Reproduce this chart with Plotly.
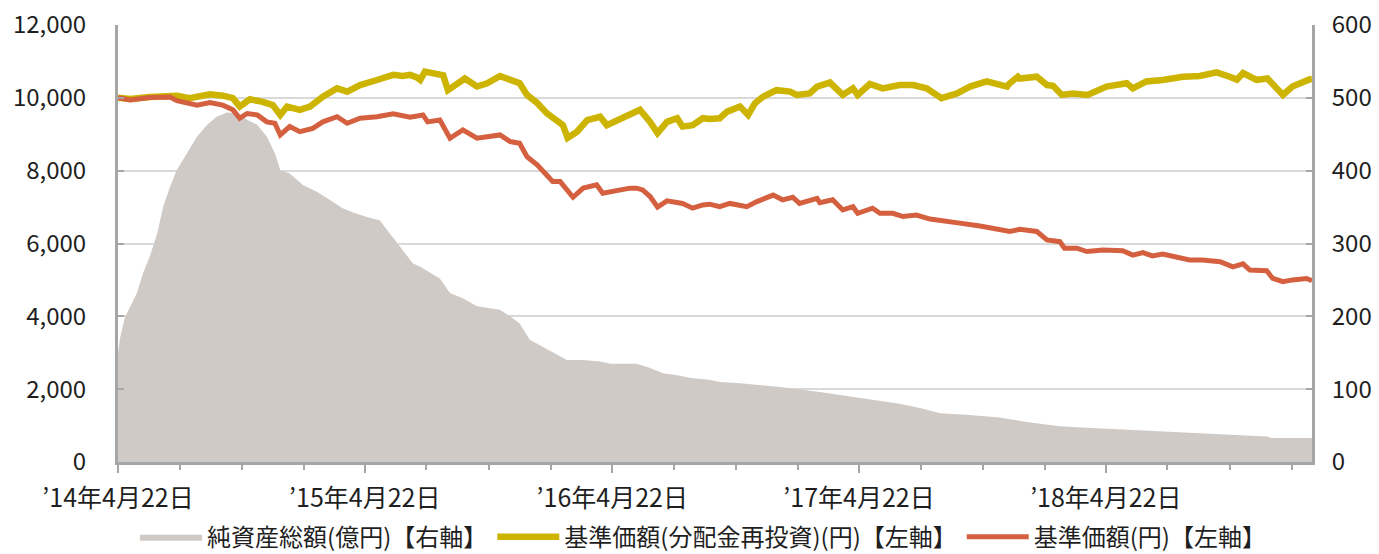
import plotly.graph_objects as go

# ---------------- data ----------------
aum_dates = [
    "2014-04-22", "2014-04-25", "2014-05-02", "2014-05-10", "2014-05-20", "2014-05-29",
    "2014-06-08", "2014-06-19", "2014-06-28", "2014-07-08", "2014-07-18", "2014-08-02",
    "2014-08-17", "2014-09-01", "2014-09-15", "2014-09-30", "2014-10-15", "2014-10-30",
    "2014-11-14", "2014-11-28", "2014-12-10", "2014-12-18", "2015-01-01", "2015-01-21",
    "2015-02-10", "2015-03-01", "2015-03-21", "2015-04-10", "2015-04-30", "2015-05-14",
    "2015-05-29", "2015-06-17", "2015-07-02", "2015-07-13", "2015-08-11", "2015-08-26",
    "2015-09-14", "2015-10-05", "2015-10-24", "2015-11-08", "2015-11-23", "2015-12-07",
    "2015-12-22", "2016-01-10", "2016-01-25", "2016-02-15", "2016-03-10", "2016-04-04",
    "2016-04-19", "2016-05-28", "2016-06-17", "2016-07-06", "2016-07-27", "2016-08-19",
    "2016-09-13", "2016-09-28", "2016-10-28", "2016-12-26", "2017-02-23", "2017-04-23",
    "2017-06-21", "2017-07-21", "2017-08-20", "2017-09-28", "2017-11-16", "2017-12-26",
    "2018-02-13", "2018-03-25", "2018-06-01", "2018-07-21", "2018-10-03", "2018-12-16",
    "2018-12-23", "2019-02-21",
]
aum_values = [  # 純資産総額(億円) – right axis
    150, 170, 198, 213, 232, 259,
    282, 314, 351, 378, 401, 424,
    447, 463, 474, 480, 479, 470,
    463, 447, 424, 401, 396, 380,
    371, 360, 348, 341, 335, 332,
    314, 291, 273, 268, 252, 232,
    225, 214, 211, 209, 200, 190,
    168, 158, 151, 140, 140, 138,
    135, 135, 129, 122, 119, 115,
    113, 110, 108, 103, 96, 88,
    80, 74, 67, 65, 61, 55,
    49, 47, 44, 41, 38, 35,
    33, 33,
]

reinv_dates = [
    "2014-04-22", "2014-05-10", "2014-06-08", "2014-07-08", "2014-07-18", "2014-08-06",
    "2014-08-26", "2014-09-05", "2014-09-24", "2014-10-09", "2014-10-19", "2014-11-03",
    "2014-11-22", "2014-12-07", "2014-12-18", "2014-12-28", "2015-01-16", "2015-01-31",
    "2015-02-19", "2015-03-12", "2015-03-27", "2015-04-15", "2015-05-10", "2015-06-03",
    "2015-06-17", "2015-06-28", "2015-07-08", "2015-07-13", "2015-07-20", "2015-08-07",
    "2015-08-16", "2015-08-23", "2015-09-05", "2015-09-17", "2015-10-05", "2015-10-20",
    "2015-11-08", "2015-11-23", "2015-12-07", "2015-12-18", "2016-01-02", "2016-01-16",
    "2016-01-31", "2016-02-09", "2016-02-16", "2016-03-01", "2016-03-16", "2016-04-04",
    "2016-04-14", "2016-04-29", "2016-05-18", "2016-06-02", "2016-06-17", "2016-06-28",
    "2016-07-12", "2016-07-27", "2016-08-04", "2016-08-19", "2016-09-03", "2016-09-13",
    "2016-09-28", "2016-10-09", "2016-10-28", "2016-11-09", "2016-11-19", "2016-12-01",
    "2016-12-21", "2017-01-10", "2017-01-20", "2017-02-08", "2017-02-19", "2017-03-10",
    "2017-03-29", "2017-04-13", "2017-04-20", "2017-05-08", "2017-05-27", "2017-06-21",
    "2017-07-11", "2017-07-31", "2017-08-22", "2017-09-14", "2017-10-03", "2017-10-28",
    "2017-11-27", "2017-12-01", "2017-12-13", "2017-12-16", "2018-01-10", "2018-01-25",
    "2018-02-03", "2018-02-16", "2018-03-04", "2018-03-26", "2018-04-23", "2018-05-23",
    "2018-06-01", "2018-06-21", "2018-07-15", "2018-08-14", "2018-09-08", "2018-10-03",
    "2018-10-22", "2018-11-02", "2018-11-11", "2018-12-01", "2018-12-17", "2018-12-31",
    "2019-01-09", "2019-01-23", "2019-02-07", "2019-02-18", "2019-02-21",
]
reinv_values = [  # 基準価額(分配金再投資)(円) – left axis
    10000, 9970, 10020, 10050, 10060, 9990,
    10080, 10100, 10060, 9990, 9760, 9960,
    9890, 9800, 9530, 9760, 9670, 9760,
    10030, 10260, 10170, 10350, 10490, 10630,
    10600, 10630, 10560, 10490, 10720, 10630,
    10620, 10210, 10350, 10530, 10310, 10400,
    10600, 10490, 10400, 10080, 9860, 9580,
    9390, 9250, 8900, 9070, 9390, 9480,
    9250, 9390, 9570, 9670, 9340, 9030,
    9340, 9440, 9210, 9250, 9440, 9420,
    9440, 9620, 9760, 9530, 9850, 10030,
    10210, 10170, 10080, 10120, 10310, 10420,
    10080, 10260, 10080, 10380, 10260, 10350,
    10350, 10260, 9990, 10120, 10310, 10450,
    10310, 10400, 10580, 10530, 10580, 10350,
    10330, 10080, 10120, 10080, 10310, 10400,
    10260, 10450, 10490, 10580, 10600, 10700,
    10580, 10500, 10680, 10490, 10530, 10260,
    10080, 10310, 10450, 10510, 10520,
]

nav_dates = [
    "2014-04-22", "2014-05-10", "2014-06-08", "2014-07-08", "2014-07-18", "2014-08-17",
    "2014-09-05", "2014-09-24", "2014-10-09", "2014-10-19", "2014-10-30", "2014-11-14",
    "2014-11-28", "2014-12-10", "2014-12-18", "2015-01-01", "2015-01-16", "2015-02-04",
    "2015-02-19", "2015-03-12", "2015-03-27", "2015-04-15", "2015-05-10", "2015-06-03",
    "2015-06-28", "2015-07-17", "2015-07-24", "2015-08-11", "2015-08-26", "2015-09-14",
    "2015-10-05", "2015-10-24", "2015-11-08", "2015-11-23", "2015-12-07", "2015-12-18",
    "2016-01-02", "2016-01-16", "2016-01-25", "2016-02-05", "2016-02-16", "2016-02-24",
    "2016-03-10", "2016-03-20", "2016-03-30", "2016-04-08", "2016-04-29", "2016-05-18",
    "2016-05-28", "2016-06-06", "2016-06-17", "2016-06-28", "2016-07-12", "2016-08-04",
    "2016-08-19", "2016-09-03", "2016-09-13", "2016-09-28", "2016-10-13", "2016-11-07",
    "2016-11-22", "2016-12-16", "2016-12-30", "2017-01-14", "2017-01-24", "2017-02-19",
    "2017-02-23", "2017-03-14", "2017-03-29", "2017-04-13", "2017-04-20", "2017-05-12",
    "2017-05-23", "2017-06-11", "2017-06-26", "2017-07-16", "2017-08-05", "2017-08-20",
    "2017-09-18", "2017-10-18", "2017-11-16", "2017-12-01", "2017-12-16", "2018-01-10",
    "2018-01-25", "2018-02-13", "2018-02-20", "2018-03-10", "2018-03-25", "2018-04-18",
    "2018-05-17", "2018-06-01", "2018-06-16", "2018-06-30", "2018-07-15", "2018-08-05",
    "2018-08-24", "2018-09-12", "2018-10-08", "2018-10-27", "2018-11-11", "2018-11-21",
    "2018-12-16", "2018-12-25", "2019-01-09", "2019-01-23", "2019-02-13", "2019-02-21",
]
nav_values = [  # 基準価額(円) – left axis
    10000, 9940, 10010, 10020, 9920, 9800,
    9870, 9800, 9670, 9440, 9570, 9530,
    9340, 9300, 8980, 9210, 9070, 9160,
    9340, 9480, 9300, 9440, 9480, 9560,
    9470, 9530, 9340, 9390, 8890, 9120,
    8890, 8930, 8980, 8800, 8750, 8380,
    8160, 7880, 7700, 7700, 7420, 7270,
    7520, 7560, 7610, 7380, 7470, 7520,
    7520, 7470, 7290, 7000, 7170, 7100,
    6970, 7060, 7080, 7010, 7100, 7010,
    7150, 7330, 7200, 7270, 7100, 7240,
    7120, 7200, 6920, 7010, 6830, 6970,
    6830, 6830, 6740, 6780, 6670, 6640,
    6560, 6480, 6400, 6330, 6390, 6330,
    6100, 6050, 5870, 5870, 5780, 5820,
    5800, 5680, 5750, 5660, 5710, 5620,
    5550, 5550, 5500, 5360, 5440, 5270,
    5250, 5040, 4950, 5000, 5040, 4980,
]

series_names = [
    "純資産総額(億円)【右軸】",
    "基準価額(分配金再投資)(円)【左軸】",
    "基準価額(円)【左軸】",
]

x_tick_vals = ["2014-04-22", "2015-04-22", "2016-04-22", "2017-04-22", "2018-04-22"]
x_tick_text = ["’14年4月22日", "’15年4月22日", "’16年4月22日", "’17年4月22日", "’18年4月22日"]
x_minor_vals = [
    "2014-07-22", "2014-10-22", "2015-01-22", "2015-07-22", "2015-10-22", "2016-01-22",
    "2016-07-22", "2016-10-22", "2017-01-22", "2017-07-22", "2017-10-22", "2018-01-22",
    "2018-07-22", "2018-10-22", "2019-01-22",
]
x_range = ["2014-04-22", "2019-02-21"]

# ---------------- style ----------------
FONT = "Noto Sans CJK JP"
GRAY_AREA = "#D0CAC7"
YELLOW = "#CCB400"
ORANGE = "#D4603F"
AXIS_GRAY = "#A6A6A6"
GRID = "#D9D9D9"
TEXT = "#1F1F1F"

fig = go.Figure()

fig.add_trace(go.Scatter(
    x=aum_dates, y=aum_values, name=series_names[0],
    mode="lines", line=dict(width=0, color=GRAY_AREA),
    fill="tozeroy", fillcolor=GRAY_AREA, yaxis="y",
))
fig.add_trace(go.Scatter(
    x=reinv_dates, y=reinv_values, name=series_names[1],
    mode="lines", line=dict(width=6.5, color=YELLOW), yaxis="y2",
))
fig.add_trace(go.Scatter(
    x=nav_dates, y=nav_values, name=series_names[2],
    mode="lines", line=dict(width=5, color=ORANGE), yaxis="y2",
))

fig.update_layout(
    width=1379, height=554,
    margin=dict(l=118, r=67, t=25, b=92, autoexpand=False),
    paper_bgcolor="white", plot_bgcolor="white",
    font=dict(family=FONT, color=TEXT, size=23),
    showlegend=True,
    legend=dict(
        orientation="h", x=0.49, xanchor="center", y=-0.172, yanchor="middle",
        font=dict(family=FONT, size=24, color=TEXT),
        traceorder="normal", itemwidth=62,
    ),
    xaxis=dict(
        type="date", range=x_range,
        tickmode="array", tickvals=x_tick_vals, ticktext=x_tick_text,
        ticks="outside", ticklen=8, tickwidth=2, tickcolor=AXIS_GRAY,
        ticklabelstandoff=4,
        minor=dict(tickmode="array", tickvals=x_minor_vals, ticks="outside",
                   ticklen=5, tickwidth=2, tickcolor=AXIS_GRAY, showgrid=False),
        showline=True, linecolor=AXIS_GRAY, linewidth=3,
        showgrid=False, zeroline=False,
        tickfont=dict(family=FONT, size=25, color=TEXT),
        automargin=False,
    ),
    yaxis=dict(  # right axis (area) - base so the area sits below the lines
        side="right", range=[0, 600], dtick=100, tick0=0,
        showgrid=True, gridcolor=GRID, gridwidth=2,
        showline=True, linecolor=AXIS_GRAY, linewidth=3,
        ticks="inside", ticklen=6, tickwidth=2, tickcolor=AXIS_GRAY,
        ticklabelstandoff=12,
        zeroline=False,
        tickfont=dict(family=FONT, size=24, color=TEXT),
        automargin=False,
    ),
    yaxis2=dict(  # left axis (lines)
        side="left", overlaying="y", range=[0, 12000], dtick=2000, tick0=0,
        tickformat=",d", showgrid=False,
        showline=True, linecolor=AXIS_GRAY, linewidth=3,
        ticks="inside", ticklen=6, tickwidth=2, tickcolor=AXIS_GRAY,
        ticklabelstandoff=24,
        zeroline=False,
        tickfont=dict(family=FONT, size=24, color=TEXT),
        automargin=False,
    ),
)

fig.write_html(
    "out.html",
    config={"displayModeBar": False},
    post_script="document.body.style.margin='0';document.body.style.overflow='hidden';",
)
